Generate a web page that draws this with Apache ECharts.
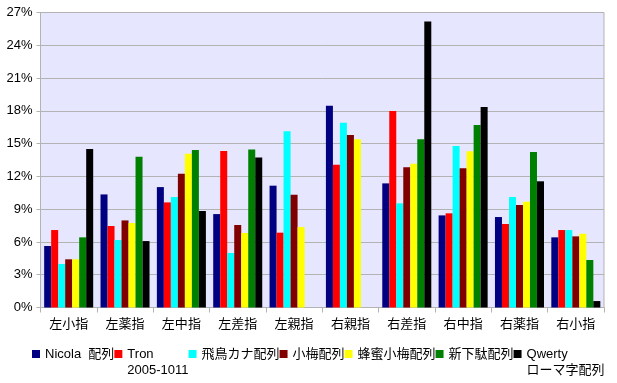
<!DOCTYPE html>
<html><head><meta charset="utf-8">
<script src="https://cdn.jsdelivr.net/npm/echarts@6/dist/echarts.min.js"></script>
<style>html,body{margin:0;padding:0;background:#fff}#c{width:617px;height:383px}</style>
</head><body><div id="c"></div>
<script>
const categories = ['左小指','左薬指','左中指','左差指','左親指','右親指','右差指','右中指','右薬指','右小指'];
const seriesNames = ['Nicola  配列','Tron 2005-1011','飛鳥カナ配列','小梅配列','蜂蜜小梅配列','新下駄配列','Qwerty ローマ字配列'];
const nicola  = [5.63,10.35,11.02,8.55,11.15,18.46,11.36,8.43,8.28,6.42];
const tron    = [7.09,7.46,9.62,14.32,6.85,13.07,17.98,8.62,7.64,7.09];
const asuka   = [3.98,6.18,10.11,4.99,16.12,16.91,9.53,14.78,10.11,7.09];
const koume   = [4.41,7.97,12.24,7.55,10.32,15.78,12.83,12.74,9.38,6.51];
const hachimitsu = [4.41,7.73,14.07,6.82,7.36,15.39,13.16,14.29,9.68,6.75];
const shingeta = [6.42,13.8,14.41,14.47,null,null,15.39,16.7,14.23,4.35];
const qwerty  = [14.5,6.08,8.83,13.74,null,null,26.18,18.34,11.55,0.59];
const yTicks = {min:0, max:27, interval:3};
const seriesData = [nicola, tron, asuka, koume, hachimitsu, shingeta, qwerty];
const colors = ['#000080','#ff0000','#00ffff','#800000','#ffff00','#008000','#000000'];
const legendText = {
  'Tron 2005-1011': '\nTron\n2005-1011',
  'Qwerty ローマ字配列': '\nQwerty\nローマ字配列'
};
const font = '"Liberation Sans", "Noto Sans CJK JP", sans-serif';
const chart = echarts.init(document.getElementById('c'), null, {renderer:'canvas'});
chart.setOption({
  animation:false,
  color: colors,
  textStyle:{fontFamily:font},
  grid:{left:40.5, right:13, top:12.5, bottom:75.5, show:true, backgroundColor:'#e6e6ff', borderColor:'#b3b3b3', borderWidth:1},
  legend:{
    left:27, top:325, width:600, itemWidth:8, itemHeight:8, itemGap:0, icon:'rect',
    textStyle:{fontFamily:font, fontSize:13, color:'#000', lineHeight:16},
    formatter: n => legendText[n] || n,
    data: seriesNames
  },
  xAxis:{
    type:'category', data:categories,
    axisLine:{lineStyle:{color:'#b3b3b3'}},
    axisTick:{show:true, length:5, lineStyle:{color:'#b3b3b3'}},
    axisLabel:{color:'#000', fontSize:13, fontFamily:font, margin:10}
  },
  yAxis:{
    type:'value', min:yTicks.min, max:yTicks.max, interval:yTicks.interval,
    axisLine:{show:true, lineStyle:{color:'#b3b3b3'}},
    axisTick:{show:true, length:4, lineStyle:{color:'#b3b3b3'}},
    splitLine:{lineStyle:{color:'#b3b3b3'}},
    axisLabel:{color:'#000', fontSize:13, fontFamily:font, margin:8, formatter:'{value}%'}
  },
  series: seriesNames.map((n,i)=>({
    name:n, type:'bar', data:seriesData[i], barGap:'0%', barCategoryGap:'13%'
  }))
});
</script></body></html>
